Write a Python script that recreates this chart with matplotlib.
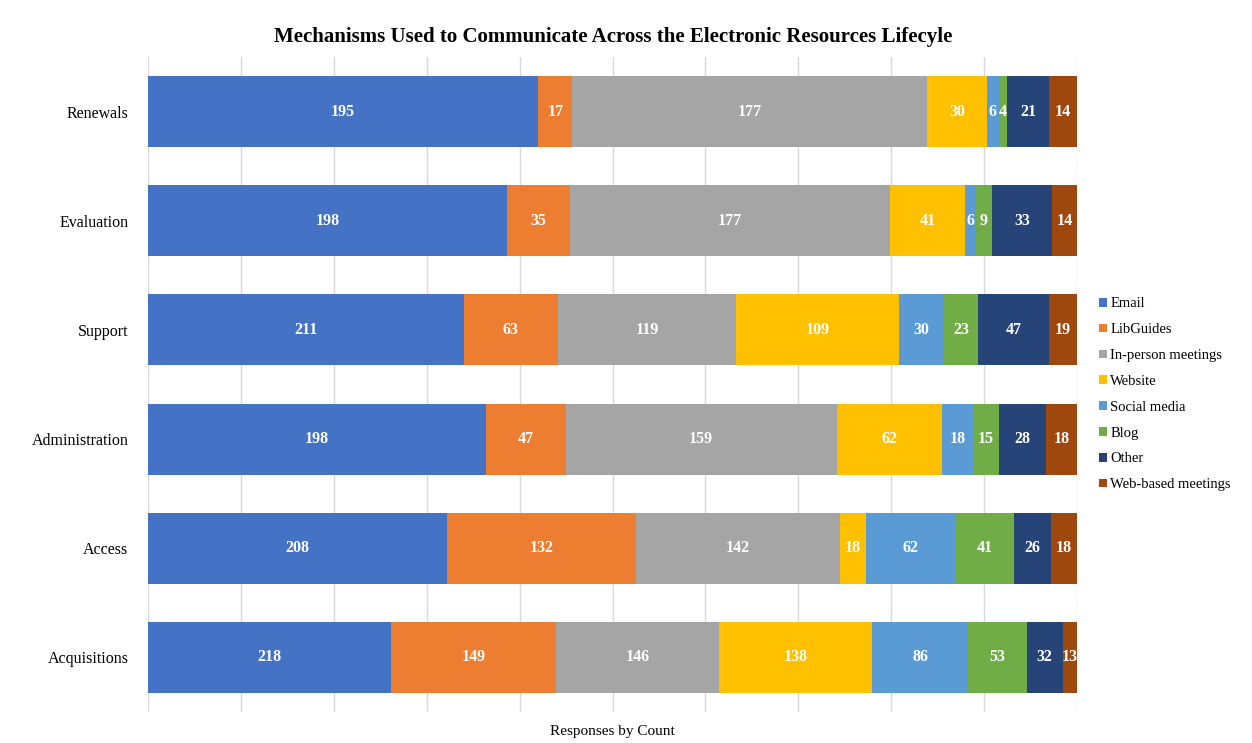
import matplotlib
matplotlib.use("Agg")
import matplotlib.pyplot as plt
import numpy as np

# ===== DATA =====
stages = ["Renewals", "Evaluation", "Support", "Administration", "Access", "Acquisitions"]
mechanisms = ["Email", "LibGuides", "In-person meetings", "Website",
              "Social media", "Blog", "Other", "Web-based meetings"]
email = [195, 198, 211, 198, 208, 218]
libguides = [17, 35, 63, 47, 132, 149]
in_person = [177, 177, 119, 159, 142, 146]
website = [30, 41, 109, 62, 18, 138]
social_media = [6, 6, 30, 18, 62, 86]
blog = [4, 9, 23, 15, 41, 53]
other = [21, 33, 47, 28, 26, 32]
web_based = [14, 14, 19, 18, 18, 13]

series = [email, libguides, in_person, website, social_media, blog, other, web_based]
colors = ["#4472C4", "#ED7D31", "#A5A5A5", "#FFC000",
          "#5B9BD5", "#70AD47", "#264478", "#9E480E"]

plt.rcParams["font.family"] = ["Liberation Serif", "DejaVu Serif"]

# ===== PLOT =====
fig = plt.figure(figsize=(12.52, 7.43), dpi=100)
ax = fig.add_axes([148 / 1252, 1 - 712 / 743, 929 / 1252, 655 / 743])

data = np.array(series, dtype=float)
shares = data / data.sum(axis=0)   # 100% gestapelt
y = np.arange(len(stages))[::-1]

left = np.zeros(len(stages))
for vals, share, name, col in zip(data, shares, mechanisms, colors):
    bars = ax.barh(y, share, left=left, height=0.65, color=col, label=name, zorder=2)
    ax.bar_label(bars, labels=[f"{int(v)}" for v in vals], label_type="center",
                 color="white", fontsize=11.5, fontweight="bold")
    left += share

# ===== LAYOUT =====
ax.set_xlim(0, 1)
ax.set_ylim(-0.5, len(stages) - 0.5)
ax.set_xticks(np.linspace(0, 1, 11))
ax.set_xticklabels([])
ax.tick_params(axis="x", length=0)
ax.tick_params(axis="y", length=0, pad=14)
ax.set_yticks(y)
ax.set_yticklabels(stages, fontsize=11.5)
ax.grid(axis="x", color="#D9D9D9", linewidth=1, zorder=0)
for s in ax.spines.values():
    s.set_visible(False)
ax.set_xlabel("Responses by Count", fontsize=11, labelpad=6)

fig.suptitle("Mechanisms Used to Communicate Across the Electronic Resources Lifecyle",
             fontsize=15, fontweight="bold", y=0.963, x=0.49)

ax.legend(loc="center left", bbox_to_anchor=(1.01, 0.485), frameon=False,
          fontsize=10.5, handlelength=0.55, handleheight=0.55, handletextpad=0.2,
          labelspacing=0.88)

fig.savefig("out.png", dpi=100)
plt.close(fig)
